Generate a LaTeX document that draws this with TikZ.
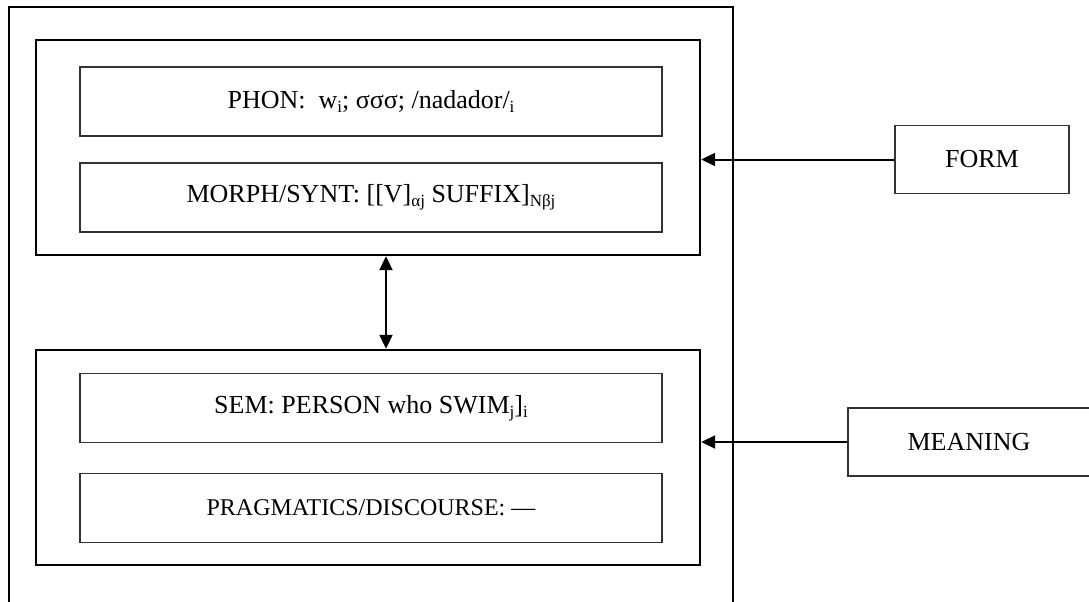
\documentclass[tikz,border=0pt]{standalone}
\usepackage{fontspec}
\setmainfont{Liberation Serif}
\usetikzlibrary{arrows.meta}
\newcommand{\sub}[1]{\raisebox{-0.3ex}{\fontsize{17}{17}\selectfont #1}}
\tikzset{
  groupbox/.style={draw, line width=2.4pt, minimum width=664pt, minimum height=215pt, inner sep=0pt},
  subbox/.style={draw=black!80, line width=1.2pt, minimum width=582pt, minimum height=69pt, inner sep=0pt},
  tagbox/.style={draw=black!80, line width=1.2pt, minimum height=68pt, inner sep=0pt},
  link/.style={line width=2pt, -{Triangle[length=14pt,width=13pt]}},
  duallink/.style={line width=2pt, {Triangle[length=14pt,width=13pt]}-{Triangle[length=14pt,width=13pt]}}
}
\begin{document}
\begin{tikzpicture}[x=1pt, y=-1pt, font=\fontsize{26}{30}\selectfont]
\useasboundingbox (0,0) rectangle (1089,602);

% Outer frame, open at the bottom
\draw[line width=1.2pt] (9,610) -- (9,7) -- (733,7) -- (733,610);

% Form side
\node[groupbox] (formgrp) at (368,147.5) {};
\node[subbox] (phon) at (371,101.5) {PHON:\ \ w\sub{i}; σσσ; /nadador/\sub{i}};
\node[subbox] (morph) at (371,197.5) {MORPH/SYNT: [[V]\sub{αj} SUFFIX]\sub{Nβj}};

% Meaning side
\node[groupbox] (meangrp) at (368,457.5) {};
\node[subbox] (sem) at (371,408) {SEM: PERSON who SWIM\sub{j}]\sub{i}};
\node[subbox] (prag) at (371,508) {\fontsize{24}{28}\selectfont PRAGMATICS/DISCOURSE: —};

% Labels on the right
\node[tagbox, minimum width=174pt] (formlbl) at (982,159.5) {FORM};
\node[tagbox, minimum width=242pt] (meanlbl) at (969,442) {MEANING};

% Connectors
\draw[link] (formlbl.west) -- (formlbl.west -| formgrp.east);
\draw[link] (meanlbl.west) -- (meanlbl.west -| meangrp.east);
\draw[duallink] ([xshift=18pt]formgrp.south) -- ([xshift=18pt]meangrp.north);
\end{tikzpicture}
\end{document}
